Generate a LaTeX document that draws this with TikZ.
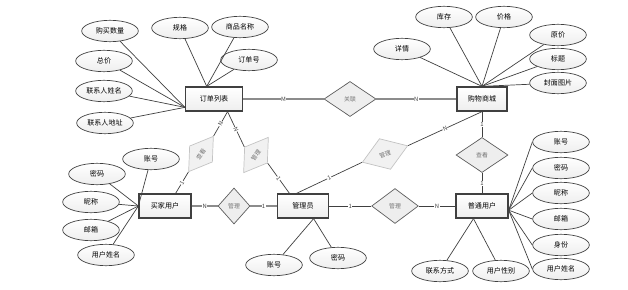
\documentclass[tikz,border=0pt]{standalone}
\usepackage{fontspec}
\newfontfamily\cjk{Noto Sans CJK SC}
\usetikzlibrary{arrows.meta, positioning, shapes.geometric, calc}
\definecolor{erdark}{HTML}{404040}
\definecolor{ergray}{HTML}{8C8C8C}
\definecolor{erfill}{HTML}{EEEEEE}
\definecolor{erlite}{HTML}{C4C4C4}
\tikzset{
  ent/.style={rectangle, draw=erdark, line width=1.1pt, top color=white, bottom color=erfill,
    minimum width=15.6mm, minimum height=7.2mm, inner sep=1pt, font=\cjk\fontsize{6}{7}\selectfont},
  attr/.style={ellipse, draw=erdark, line width=0.6pt, top color=white, bottom color=erfill,
    minimum width=17mm, minimum height=6.4mm, inner sep=0pt, font=\cjk\fontsize{6}{7}\selectfont},
  rel/.style={diamond, draw=erdark!85, line width=0.6pt, fill=erfill, minimum width=15.6mm,
    minimum height=10.5mm, inner sep=0pt, text=black!55, font=\cjk\fontsize{5}{6}\selectfont},
  srel/.style={rel, draw=erlite, fill=erfill!80, minimum width=13mm, minimum height=8.4mm},
  lnk/.style={line width=0.6pt, erdark},
  thk/.style={line width=1.6pt, ergray},
  card/.style={font=\cjk\fontsize{5}{6}\selectfont, text=erdark, inner sep=0.4pt, fill=white},
}

\begin{document}
\begin{tikzpicture}[x=0.3mm, y=-0.3mm]
    \useasboundingbox (0,0) rectangle (628,290);
    % entities
    \node[ent, minimum width=17.1mm] (order) at (214,99) {订单列表};
    \node[ent, minimum width=15mm] (mall) at (482,99) {购物商城};
    \node[ent] (buyer) at (165,206) {买家用户};
    \node[ent, minimum width=15.3mm] (admin) at (303,206) {管理员};
    \node[ent] (user) at (482,206) {普通用户};
    % relations
    \node[rel] (link) at (350,99) {关联};
    \node[srel, rotate=55] (buyview) at (201,154) {查看};
    \node[srel, rotate=55] (ordmgr) at (256,155) {管理};
    \node[srel, rotate=20, minimum width=14.5mm, minimum height=9.8mm] (mallmgr) at (385,154) {管理};
    \node[rel] (view) at (482,155) {查看};
    \node[rel, minimum width=9.6mm, minimum height=10.8mm] (buymgr) at (234,206) {管理};
    \node[rel, minimum width=14mm] (usrmgr) at (395,206) {管理};
    % order attributes
    \node[attr] (oqty) at (110,31) {购买数量};
    \node[attr] (ospec) at (180,28) {规格};
    \node[attr] (oname) at (240,27) {商品名称};
    \node[attr] (ono) at (249,60) {订单号};
    \node[attr] (ototal) at (104,61) {总价};
    \node[attr] (ocname) at (104,91) {联系人姓名};
    \node[attr] (ocaddr) at (105,123) {联系人地址};
    % mall attributes
    \node[attr] (mstock) at (444,17) {库存};
    \node[attr] (mprice) at (504,17) {价格};
    \node[attr] (morig) at (558,35) {原价};
    \node[attr] (mtitle) at (558,59) {标题};
    \node[attr] (mcover) at (558,83) {封面图片};
    \node[attr] (mdetail) at (402,49) {详情};
    % buyer attributes
    \node[attr] (bacc) at (151,159) {账号};
    \node[attr] (bpwd) at (97,174) {密码};
    \node[attr] (bnick) at (91,202) {昵称};
    \node[attr] (bmail) at (91,230) {邮箱};
    \node[attr] (bname) at (106,255) {用户姓名};
    % admin attributes
    \node[attr] (aacc) at (274,265) {账号};
    \node[attr] (apwd) at (338,258) {密码};
    % user attributes
    \node[attr] (uacc) at (561,142) {账号};
    \node[attr] (upwd) at (561,168) {密码};
    \node[attr] (unick) at (561,193) {昵称};
    \node[attr] (umail) at (561,219) {邮箱};
    \node[attr] (urole) at (561,245) {身份};
    \node[attr] (uname) at (561,269) {用户姓名};
    \node[attr] (ucont) at (440,271) {联系方式};
    \node[attr] (usex) at (501,271) {用户性别};
    % attribute links
    \foreach \a in {oqty, ototal, ocname, ocaddr} \draw[lnk] (\a) -- (order.196);
    \foreach \a in {ospec, oname, ono} \draw[lnk] (\a) -- (order.120);
    \foreach \a in {mstock, mprice, morig, mtitle, mcover, mdetail} \draw[lnk] (\a) -- (mall.north);
    \foreach \a in {bacc, bpwd, bnick, bmail, bname} \draw[lnk] (\a) -- (buyer.west);
    \foreach \a in {aacc, apwd} \draw[lnk] (\a) -- (admin.-50);
    \foreach \a in {uacc, upwd, unick, umail, urole, uname} \draw[lnk] (\a.west) -- (user.-9);
    \foreach \a in {ucont, usex} \draw[lnk] (\a) -- (user.-124);
    % relation links
    \draw[thk] (order.east) -- node[card]{M} (link.west);
    \draw[thk] (link.east) -- node[card]{N} (mall.west);
    \draw[lnk] (order.-43) -- node[card, sloped]{N} (buyview.east);
    \draw[lnk] (buyview.west) -- node[card, sloped]{1} (buyer.50);
    \draw[lnk] (order.-43) -- node[card, sloped]{N} (ordmgr.north);
    \draw[lnk] (ordmgr.south) -- node[card, sloped]{1} (admin.137);
    \draw[lnk] (admin.117) -- node[card, sloped]{1} (mallmgr.west);
    \draw[lnk] (mallmgr.east) -- node[card, sloped]{N} (mall.south);
    \draw[lnk] (mall.south) -- node[card]{1} (view.north);
    \draw[lnk] (view.south) -- node[card]{1} (user.north);
    \draw[thk] (buyer.east) -- node[card]{N} (buymgr.west);
    \draw[thk] (buymgr.east) -- node[card]{1} (admin.west);
    \draw[lnk] (admin.east) -- node[card]{1} (usrmgr.west);
    \draw[lnk] (usrmgr.east) -- node[card]{N} (user.west);
\end{tikzpicture}
\end{document}
